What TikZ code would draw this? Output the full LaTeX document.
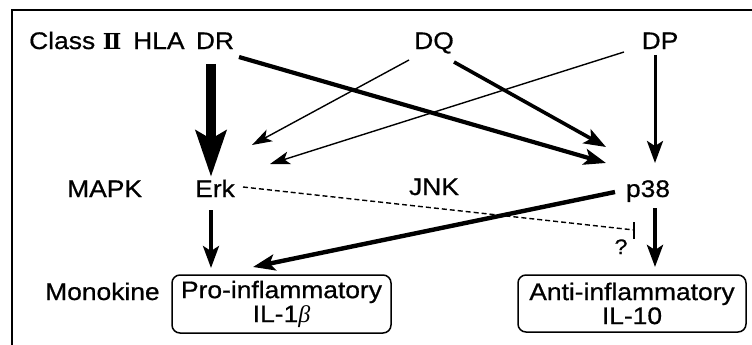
\documentclass[tikz,border=0pt]{standalone}
\usepackage{fontspec}
\setmainfont{Liberation Sans}[FakeStretch=1.1,FakeBold=0.7]
\newfontfamily\numfont{DejaVu Serif}
\newfontfamily\grk{Liberation Serif}
\usetikzlibrary{arrows.meta,calc}
\begin{document}
\begin{tikzpicture}[x=1pt,y=-1pt,
  lbl/.style={inner sep=0pt, text height=17pt, text depth=5pt,
    font=\fontsize{24}{24}\selectfont},
  cytobox/.style={draw, line width=1.5pt, rounded corners=8pt, inner sep=0pt,
    align=center, font=\fontsize{24}{24}\selectfont},
  thinarrow/.style={line width=1.4pt, -{Stealth[length=20pt,width=13pt,inset=5pt]}},
  midarrow/.style={line width=3.6pt, -{Stealth[length=22pt,width=16pt,inset=5pt]}},
  heavyarrow/.style={line width=10pt, -{Stealth[length=46pt,width=30pt,inset=8pt]}},
  inhib/.style={line width=1.4pt, dash pattern=on 5pt off 3pt},
  inhibbar/.style={line width=1.8pt}
]
\useasboundingbox (0,0) rectangle (752,345);

% frame (top and left edges)
\draw[line width=2pt] (12,345) -- (12,10) -- (752,10);

% row labels
\node[lbl, anchor=west] (cls) at (29,43)
  {Class\makebox[34pt]{\numfont\bfseries\fontsize{22}{22}\selectfont Ⅱ}\hspace{4pt}HLA};
\node[lbl, anchor=west] (mapk) at (67,191) {MAPK};
\node[lbl, anchor=west] (mono) at (45,294) {Monokine};

% HLA molecules
\node[lbl] (dr) at (215,43) {DR};
\node[lbl] (dq) at (434,43) {DQ};
\node[lbl] (dp) at (660,43) {DP};

% kinases
\node[lbl] (erk) at (215,191) {Erk};
\node[lbl] (jnk) at (434,189) {JNK};
\node[lbl] (p38) at (648,191) {p38};

% monokines
\node[cytobox, minimum width=219pt, minimum height=58pt] (pro) at (281.5,304)
  {Pro-inflammatory\\IL-1{\grk\itshape β}};
\node[cytobox, minimum width=228pt, minimum height=57pt] (anti) at (632,303.5)
  {Anti-inflammatory\\IL-10};

% HLA -> MAPK
\draw[heavyarrow] ($(dr)+(-4,21)$) -- ($(erk)+(-4,-14)$);
\draw[midarrow, line width=4.2pt] ($(dr)+(24,14)$) -- ($(p38)+(-42,-28)$);
\draw[thinarrow] ($(dq)+(-25,17)$) -- ($(erk)+(37,-46)$);
\draw[midarrow] ($(dq)+(20,19)$) -- ($(p38)+(-42,-44)$);
\draw[thinarrow] ($(dp)+(-36,9)$) -- ($(erk)+(55,-27)$);
\draw[midarrow, line width=3pt] ($(dp)+(-5,12)$) -- ($(p38)+(7,-28)$);

% JNK inhibition, ending in an upright bar
\coordinate (block) at ($(p38)+(-14,39)$);
\draw[inhib] ($(erk)+(28,-4)$) -- (block);
\draw[inhibbar] ($(block)+(0,-8)$) -- ($(block)+(0,9)$);
\node[lbl, font=\fontsize{21}{21}\selectfont] (q) at (621,248) {?};

% MAPK -> monokines
\draw[midarrow, line width=4.4pt] ($(p38)+(-33,1)$) -- ($(pro)+(-28.5,-37)$);
\draw[midarrow, line width=3.4pt] ($(erk)+(-4,19)$) -- ($(pro)+(-70.5,-36)$);
\draw[midarrow, line width=4pt] ($(p38)+(7,17)$) -- ($(anti)+(23,-36.5)$);
\end{tikzpicture}
\end{document}
